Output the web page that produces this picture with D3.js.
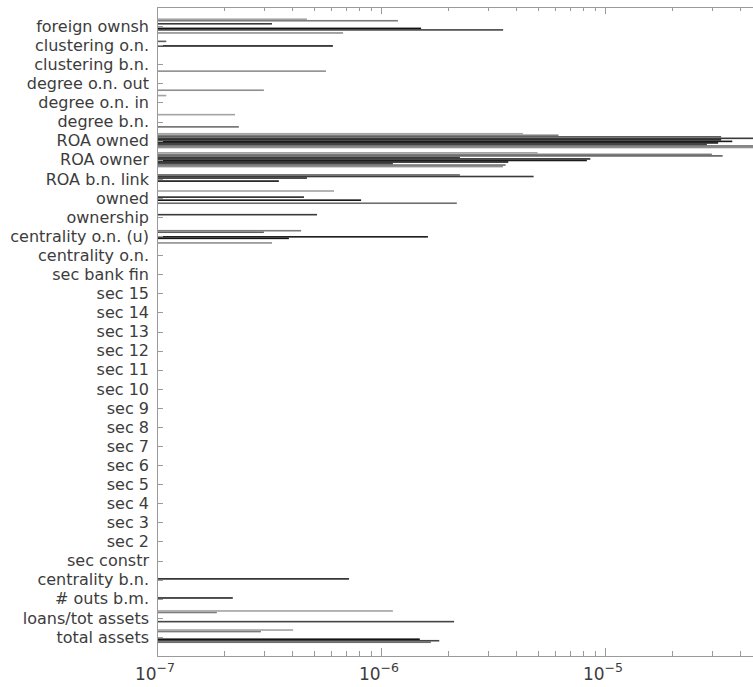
<!DOCTYPE html>
<html><head><meta charset="utf-8">
<script src="https://cdn.jsdelivr.net/npm/d3@7"></script>
<style>html,body{margin:0;padding:0;background:#fff;}svg{display:block;}</style>
</head><body>
<svg id="chart" width="753" height="687"></svg>
<script>
const _ = null;
// categories, bottom (index 0) to top (index 32)
const categories = ["total assets","loans/tot assets","# outs b.m.","centrality b.n.","sec constr",
  "sec 2","sec 3","sec 4","sec 5","sec 6","sec 7","sec 8","sec 9","sec 10","sec 11","sec 12",
  "sec 13","sec 14","sec 15","sec bank fin","centrality o.n.","centrality o.n. (u)","ownership",
  "owned","ROA b.n. link","ROA owner","ROA owned","degree b.n.","degree o.n. in","degree o.n. out",
  "clustering b.n.","clustering o.n.","foreign ownsh"];
//           0       1       2       3      4-20 (17 empty)                         21      22      23      24      25      26      27      28      29      30      31      32
const s1  = [_,      _,      _,      _,     _,_,_,_,_, _,_,_,_,_, _,_,_,_,_, _,_,  3.26e-7,_,     _,      _,      3.5e-6, 8e-5,   _,      _,      3.0e-7, 5.68e-7,_,      6.77e-7];
const s2  = [1.67e-6,_,      _,      _,     _,_,_,_,_, _,_,_,_,_, _,_,_,_,_, _,_,  _,      _,      2.18e-6,_,      3.6e-6, 8e-5,   2.32e-7,_,      _,      _,      _,      _];
const s3  = [1.82e-6,2.12e-6,_,      _,     _,_,_,_,_, _,_,_,_,_, _,_,_,_,_, _,_,  _,      _,      _,      _,      1.13e-6,2.85e-5,_,      _,      _,      _,      _,      3.51e-6];
const s4  = [1.49e-6,_,      _,      _,     _,_,_,_,_, _,_,_,_,_, _,_,_,_,_, _,_,  3.88e-7,_,      8.15e-7,3.5e-7, 3.7e-6, 3.2e-5, _,      _,      _,      _,      _,      1.51e-6];
const s5  = [_,      _,      _,      _,     _,_,_,_,_, _,_,_,_,_, _,_,_,_,_, _,_,  1.62e-6,_,      _,      _,      8.3e-6, 3.7e-5, _,      _,      _,      _,      6.1e-7, _];
const s6  = [_,      _,      2.18e-7,7.2e-7,_,_,_,_,_, _,_,_,_,_, _,_,_,_,_, _,_,  _,      _,      4.53e-7,4.67e-7,8.6e-6, 3.3e-5, _,      _,      _,      _,      _,      _];
const s7  = [_,      _,      _,      _,     _,_,_,_,_, _,_,_,_,_, _,_,_,_,_, _,_,  _,      5.18e-7,_,      4.8e-6, 2.25e-6,8e-5,   _,      _,      _,      _,      _,      3.26e-7];
const s8  = [_,      _,      _,      _,     _,_,_,_,_, _,_,_,_,_, _,_,_,_,_, _,_,  3.0e-7, _,      _,      2.25e-6,3.35e-5,3.3e-5, _,      _,      _,      _,      1.1e-7, _];
const s9  = [2.91e-7,1.85e-7,_,      _,     _,_,_,_,_, _,_,_,_,_, _,_,_,_,_, _,_,  4.4e-7, _,      _,      _,      3.0e-5, 6.2e-6, _,      _,      _,      _,      _,      1.19e-6];
const s10 = [4.05e-7,1.13e-6,_,      _,     _,_,_,_,_, _,_,_,_,_, _,_,_,_,_, _,_,  _,      _,      6.17e-7,_,      5.0e-6, 4.3e-6, 2.23e-7,1.1e-7, _,      _,      _,      4.67e-7];
const seriesList = [s1,s2,s3,s4,s5,s6,s7,s8,s9,s10];
const seriesColors = ["#8f8f8f","#6e6e6e","#454545","#141414","#1c1c1c","#262626","#3a3a3a","#5e5e5e","#7c7c7c","#a3a3a3"];
const xTickExps = [-7,-6,-5,-4];

const svg = d3.select("#chart");
const mLeft = 157, mTop = 7, mBottom = 656;
const x = d3.scaleLog().domain([1e-7, 1e-4]).range([mLeft, mLeft + 3*224]);
const y = d3.scaleLinear().domain([0, 34]).range([mBottom, mTop]);

const nS = seriesList.length;
const groupW = 0.8;
const step = groupW / nS;
const barH = Math.abs(y(0) - y(step)) * 1.05;

// bars
seriesList.forEach((s, si) => {
  const off = (si - (nS - 1) / 2) * step;
  svg.append("g").selectAll("rect")
    .data(s.map((v, i) => ({v, i})).filter(d => d.v != null))
    .join("rect")
    .attr("x", mLeft)
    .attr("y", d => y(d.i + 1 + off) - barH / 2)
    .attr("width", d => Math.max(0, x(d.v) - mLeft))
    .attr("height", barH)
    .attr("fill", seriesColors[si]);
});

// axes frame
const axisColor = "#9a9a9a";
const W = 753;
svg.append("line").attr("x1", mLeft).attr("x2", W).attr("y1", mTop + 0.5).attr("y2", mTop + 0.5).attr("stroke", axisColor);
svg.append("line").attr("x1", mLeft).attr("x2", W).attr("y1", mBottom + 0.5).attr("y2", mBottom + 0.5).attr("stroke", axisColor);
svg.append("line").attr("x1", mLeft + 0.5).attr("x2", mLeft + 0.5).attr("y1", mTop).attr("y2", mBottom + 1).attr("stroke", axisColor);

// x ticks (inward, top and bottom)
const ticks = [];
for (let e = -7; e <= -5; e++) for (let m = 1; m <= 9; m++) ticks.push({v: m * Math.pow(10, e), major: m === 1});
ticks.push({v: 1e-4, major: true});
ticks.forEach(t => {
  const px = Math.round(x(t.v)) + 0.5;
  if (px > W) return;
  const lb = t.major ? 8 : 5, lt = t.major ? 7 : 4;
  svg.append("line").attr("x1", px).attr("x2", px).attr("y1", mBottom).attr("y2", mBottom - lb).attr("stroke", axisColor);
  svg.append("line").attr("x1", px).attr("x2", px).attr("y1", mTop).attr("y2", mTop + lt).attr("stroke", axisColor);
});

// x tick labels
xTickExps.forEach(e => {
  const px = x(Math.pow(10, e));
  if (px > W - 10) return;
  const t = svg.append("text").attr("x", px - 2).attr("y", 680)
    .attr("text-anchor", "middle").attr("font-family", "DejaVu Sans").attr("fill", "#3c3c3c");
  t.append("tspan").attr("font-size", 17).text("10");
  t.append("tspan").attr("font-size", 12.5).attr("dy", -8).text("\u2212" + Math.abs(e));
});

// y ticks and labels
categories.forEach((c, i) => {
  const py = Math.round(y(i + 1)) + 0.5;
  svg.append("line").attr("x1", mLeft).attr("x2", mLeft + 6).attr("y1", py).attr("y2", py).attr("stroke", axisColor);
  svg.append("text").attr("x", 149).attr("y", y(i + 1)).attr("dy", "0.36em")
    .attr("text-anchor", "end").attr("font-family", "DejaVu Sans").attr("font-size", 16)
    .attr("fill", "#3c3c3c").text(c);
});
</script>
</body></html>
